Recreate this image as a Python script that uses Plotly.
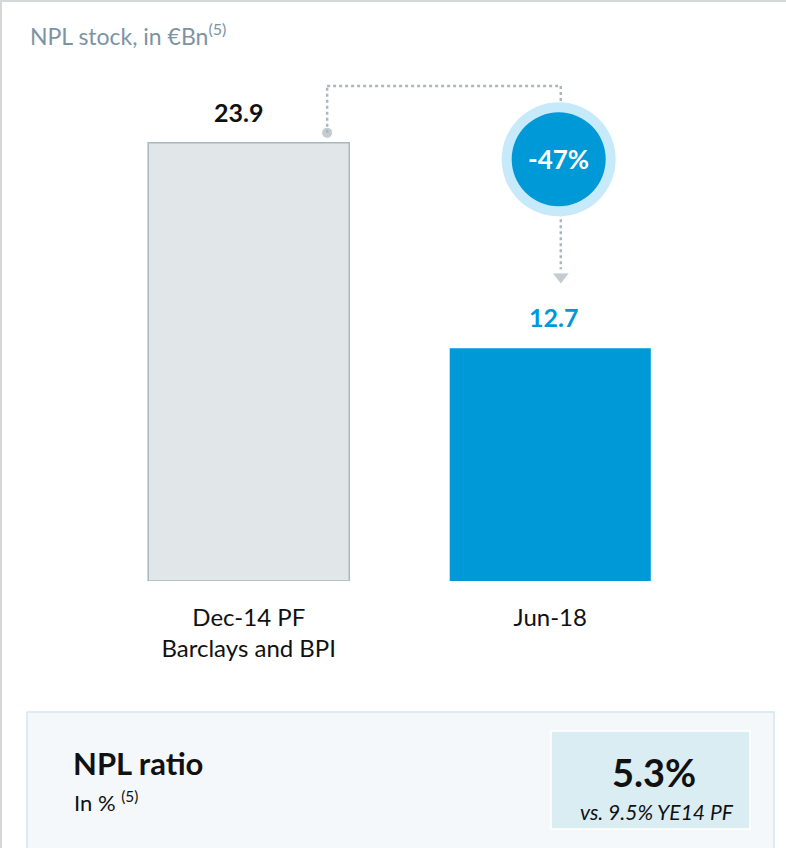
import plotly.graph_objects as go

# ---- data ----
categories = ["Dec-14 PF<br>Barclays and BPI", "Jun-18"]
npl_stock = [23.9, 12.7]
value_labels = ["23.9", "12.7"]
change_label = "-47%"
ratio_title = "NPL ratio"
ratio_sub = "In % <sup>(5)</sup>"
ratio_value = "5.3%"
ratio_compare = "vs. 9.5% YE14 PF"

# ---- layout constants ----
W, H = 786, 848
ML, MR, MT, MB = 98, 85, 31, 267
PW, PH = W - ML - MR, H - MT - MB
YMAX = 30.0
FONT = "Lato, Open Sans, sans-serif"
GREY = "#AAB7BE"
BLUE = "#0099D8"
INK = "#111111"
LABEL_XSHIFT = [-10, 3]


def px(xp):
    return (xp - ML) / PW


def py(yp):
    return (H - MB - yp) / PH


fig = go.Figure()
fig.add_trace(go.Bar(
    x=[0, 1], y=npl_stock, width=0.667,
    marker=dict(color=["#E1E6E9", BLUE], line=dict(color=[GREY, BLUE], width=[1.5, 0])),
    hoverinfo="skip",
))

# value labels above bars
for i, (v, lab) in enumerate(zip(npl_stock, value_labels)):
    fig.add_annotation(x=i, y=v, xref="x", yref="y", text="<b>" + lab + "</b>", showarrow=False,
                       yanchor="middle", yshift=31, xshift=LABEL_XSHIFT[i],
                       font=dict(family=FONT, size=25, color=INK if i == 0 else BLUE))

# connector geometry in data units, relative to bars
x0_dot = 0.26
x1_line = 1.035
y_top = npl_stock[0] + 3.1
y_dot = npl_stock[0] + 0.55
y_circ = npl_stock[0] - 0.9
y_arrow = npl_stock[1] + 3.9

dot = dict(color=GREY, width=2.5, dash="dot")
fig.add_shape(type="line", xref="x", yref="y", x0=x0_dot, x1=x0_dot, y0=y_dot, y1=y_top, line=dot)
fig.add_shape(type="line", xref="x", yref="y", x0=x0_dot, x1=x1_line, y0=y_top, y1=y_top, line=dot)
fig.add_shape(type="line", xref="x", yref="y", x0=x1_line, x1=x1_line, y0=y_top, y1=y_circ, line=dot)
fig.add_shape(type="line", xref="x", yref="y", x0=x1_line, x1=x1_line, y0=y_circ, y1=y_arrow + 0.4, line=dot)

# circle badge
for r, col in [(57, "#C6EAFA"), (47, BLUE)]:
    fig.add_shape(type="circle", xref="x", yref="y", xsizemode="pixel", ysizemode="pixel",
                  xanchor=x1_line - 0.007, yanchor=y_circ, x0=-r, x1=r, y0=-r, y1=r,
                  fillcolor=col, line=dict(width=0))
fig.add_annotation(x=x1_line - 0.007, y=y_circ, xref="x", yref="y", text="<b>" + change_label + "</b>",
                   showarrow=False, font=dict(family=FONT, size=26, color="white"))

fig.add_trace(go.Scatter(x=[x0_dot, x1_line], y=[y_dot, y_arrow], mode="markers",
                         marker=dict(symbol=["circle", "triangle-down"], size=[11, 15], color=GREY),
                         hoverinfo="skip", cliponaxis=False))

# title
fig.add_annotation(x=px(28), y=py(34), xref="paper", yref="paper", xanchor="left", yanchor="middle",
                   text="NPL stock, in €Bn<sup>(5)</sup>", showarrow=False,
                   font=dict(family=FONT, size=23, color="#7C93A4"))

# frame lines
fig.add_shape(type="line", xref="paper", yref="paper", x0=px(0), x1=px(W), y0=py(1), y1=py(1),
              line=dict(color="#D5D8DA", width=2))
fig.add_shape(type="line", xref="paper", yref="paper", x0=px(1), x1=px(1), y0=py(0), y1=py(H),
              line=dict(color="#D5D8DA", width=2))

# bottom box
fig.add_shape(type="rect", xref="paper", yref="paper", x0=px(27), x1=px(774), y0=py(712), y1=py(850),
              fillcolor="#F4F8FB", line=dict(color="#D3E5EE", width=1.5), layer="below")
fig.add_shape(type="rect", xref="paper", yref="paper", x0=px(551), x1=px(750), y0=py(731), y1=py(829),
              fillcolor="#DAEDF3", line=dict(color="white", width=1.5), layer="below")
fig.add_annotation(x=px(71), y=py(763), xref="paper", yref="paper", xanchor="left", yanchor="middle",
                   text="<b>" + ratio_title + "</b>", showarrow=False,
                   font=dict(family=FONT, size=31, color=INK))
fig.add_annotation(x=px(72), y=py(801), xref="paper", yref="paper", xanchor="left", yanchor="middle",
                   text=ratio_sub, showarrow=False, font=dict(family=FONT, size=22, color=INK))
fig.add_annotation(x=px(654), y=py(772), xref="paper", yref="paper", xanchor="center", yanchor="middle",
                   text="<b>" + ratio_value + "</b>", showarrow=False,
                   font=dict(family=FONT, size=38, color=INK))
fig.add_annotation(x=px(657), y=py(811), xref="paper", yref="paper", xanchor="center", yanchor="middle",
                   text="<i>" + ratio_compare + "</i>", showarrow=False,
                   font=dict(family=FONT, size=21, color=INK))

fig.update_layout(
    width=W, height=H, margin=dict(l=ML, r=MR, t=MT, b=MB),
    paper_bgcolor="white", plot_bgcolor="white", showlegend=False,
    font=dict(family=FONT),
    xaxis=dict(range=[-0.5, 1.5], tickvals=[0, 1], ticktext=categories, showgrid=False,
               zeroline=False, showline=False, ticks="", ticklabelstandoff=20,
               tickfont=dict(family=FONT, size=24, color=INK)),
    yaxis=dict(range=[0, YMAX], visible=False, showgrid=False, zeroline=False),
)

fig.write_html("out.html")
